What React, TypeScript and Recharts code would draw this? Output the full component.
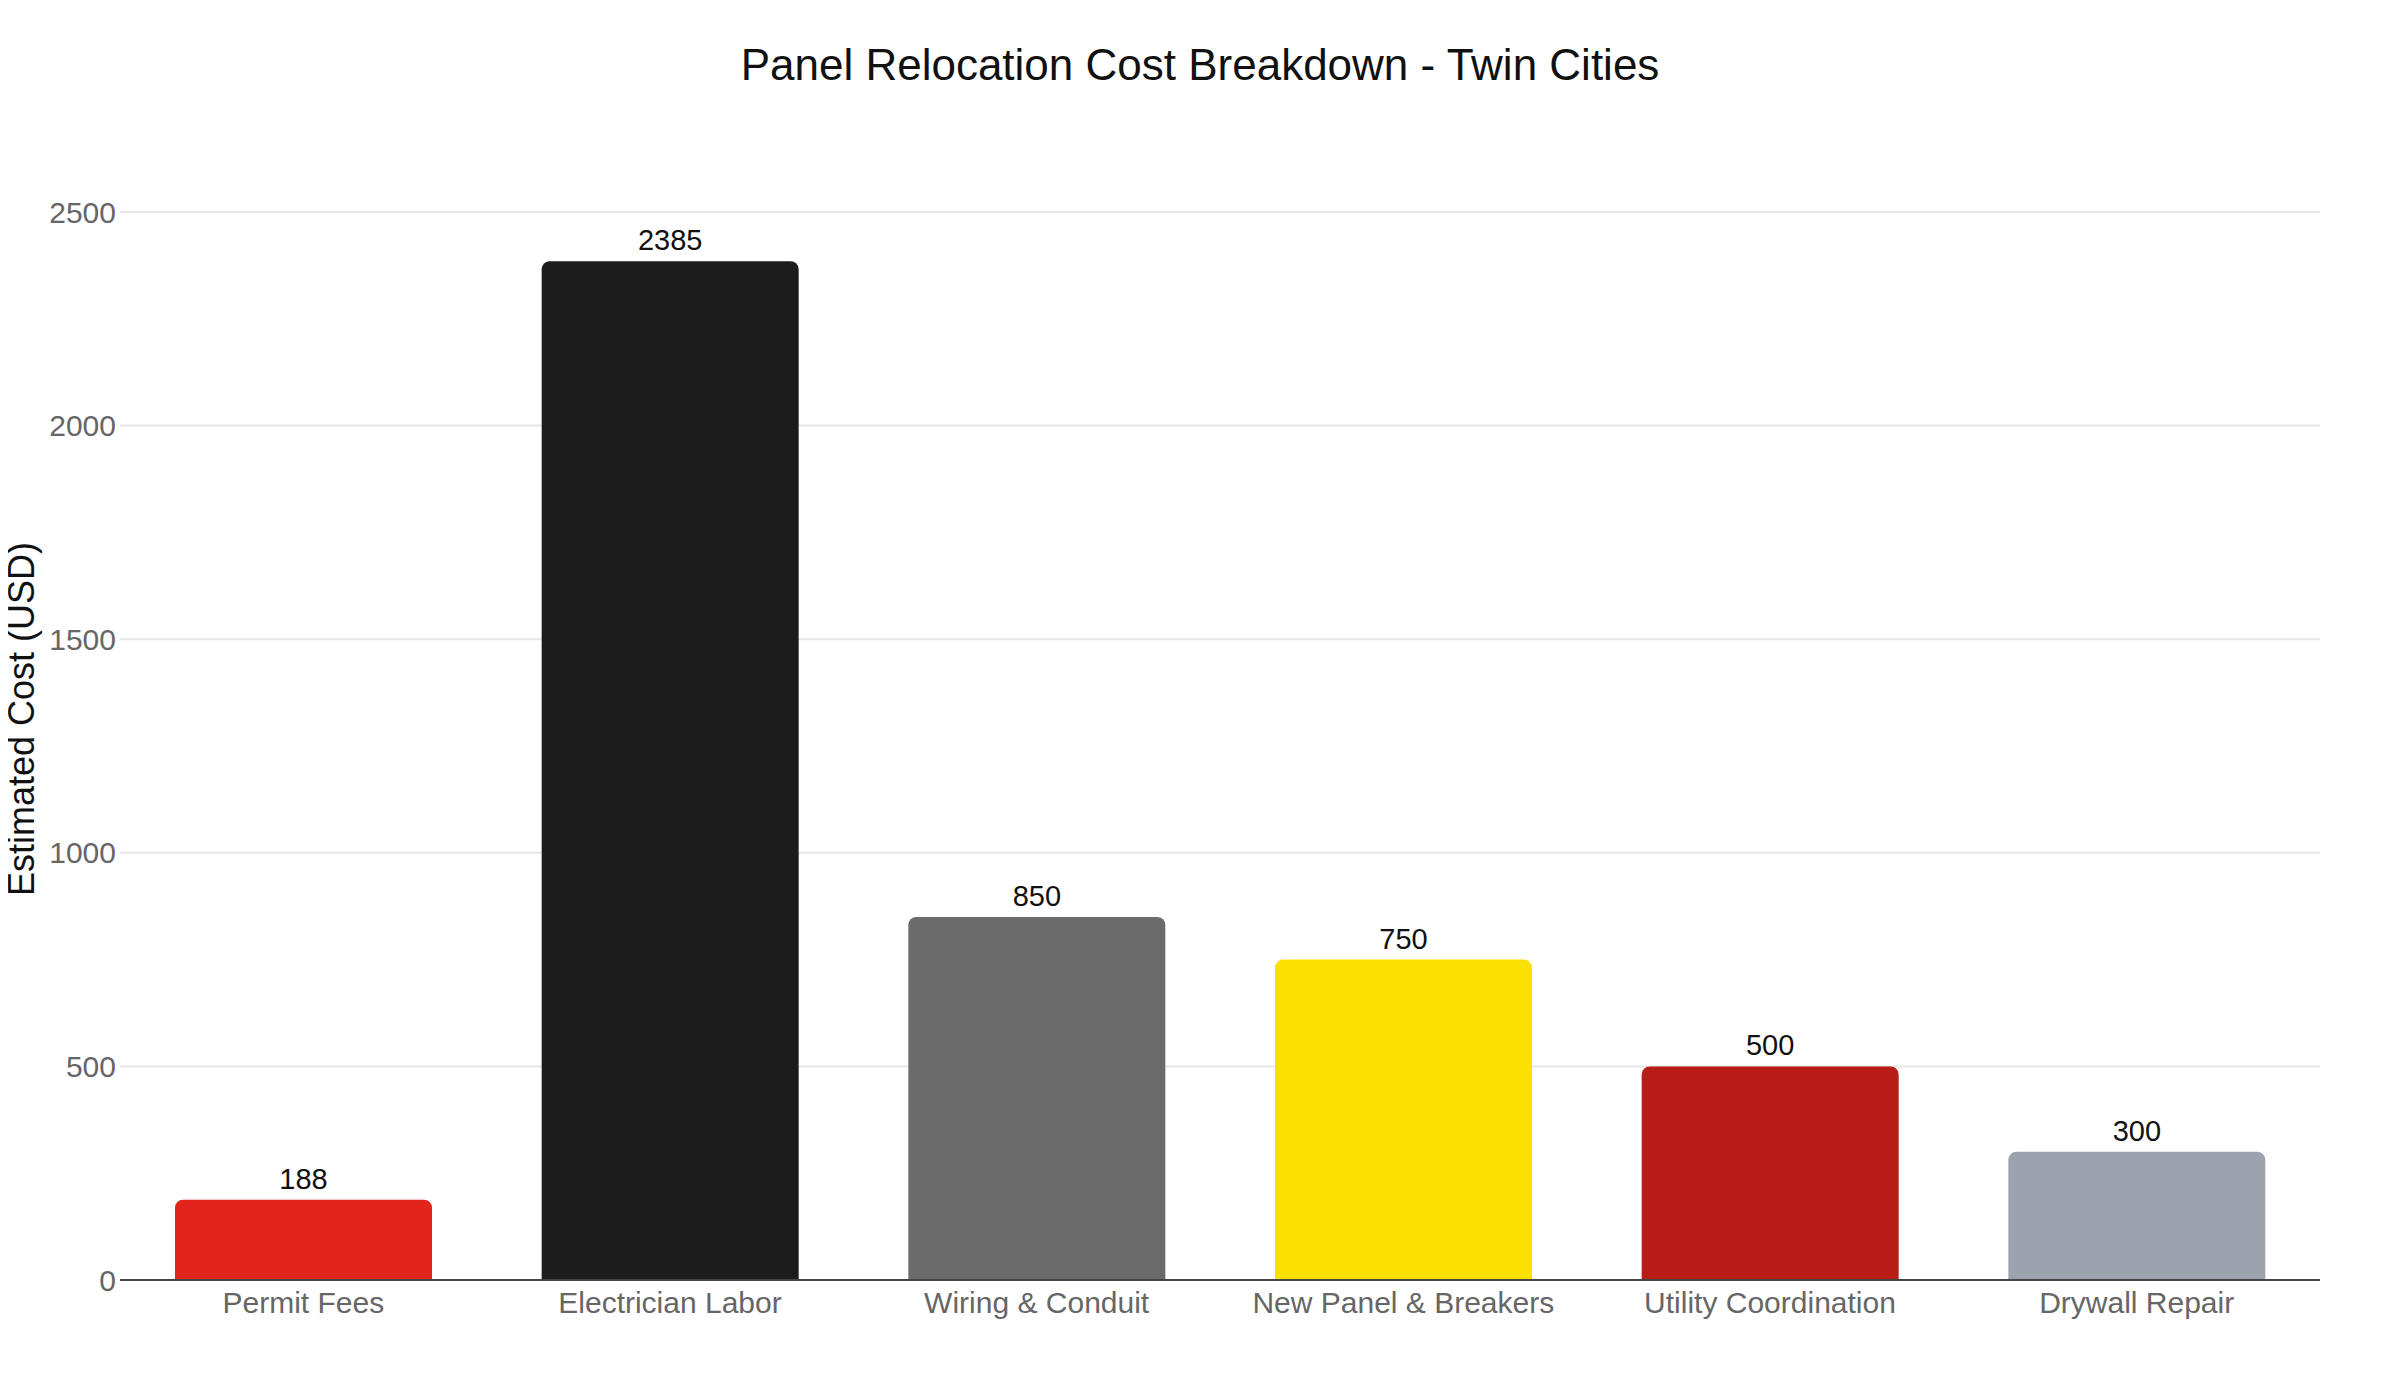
import { BarChart, Bar, XAxis, YAxis, CartesianGrid, Cell, LabelList } from "recharts";

const categories = [
  "Permit Fees",
  "Electrician Labor",
  "Wiring & Conduit",
  "New Panel & Breakers",
  "Utility Coordination",
  "Drywall Repair",
];
const costs = [188, 2385, 850, 750, 500, 300];
const barColors = ["#e0261c", "#1c1c1c", "#6b6b6b", "#fbe100", "#b71c17", "#9ca3af"];
const yTicks = [0, 500, 1000, 1500, 2000, 2500];

const data = categories.map((name, i) => ({ name, cost: costs[i] }));

const FONT = '"Liberation Sans", Arial, Helvetica, sans-serif';

export default function App() {
  return (
    <div style={{ margin: -8, width: 2400, height: 1400, background: "#fff", fontFamily: FONT }}>
      <BarChart
        width={2400}
        height={1400}
        data={data}
        margin={{ top: 212, right: 80, bottom: 60, left: 20 }}
        barCategoryGap="15%"
      >
        <CartesianGrid vertical={false} stroke="#e6e6e6" strokeWidth={2} />
        <XAxis
          dataKey="name"
          height={60}
          tickLine={false}
          tickSize={0}
          tickMargin={12}
          axisLine={{ stroke: "#444", strokeWidth: 2 }}
          tick={{ fill: "#666", fontSize: 30, fontFamily: FONT }}
          interval={0}
        />
        <YAxis
          width={100}
          domain={[0, 2500]}
          ticks={yTicks}
          tickLine={false}
          tickSize={0}
          tickMargin={4}
          axisLine={false}
          tick={{ fill: "#666", fontSize: 30, fontFamily: FONT }}
        />
        <Bar dataKey="cost" radius={[8, 8, 0, 0]} isAnimationActive={false}>
          {data.map((d, i) => (
            <Cell key={d.name} fill={barColors[i]} />
          ))}
          <LabelList
            dataKey="cost"
            position="top"
            offset={11}
            fill="#111"
            fontSize={29}
            fontFamily={FONT}
          />
        </Bar>
        <text
          x={1200}
          y={80}
          textAnchor="middle"
          fontSize={44}
          fill="#111"
          fontFamily={FONT}
        >
          Panel Relocation Cost Breakdown - Twin Cities
        </text>
        <text
          x={21}
          y={719}
          transform="rotate(-90, 21, 719)"
          textAnchor="middle"
          dominantBaseline="central"
          fontSize={36}
          fill="#111"
          fontFamily={FONT}
        >
          Estimated Cost (USD)
        </text>
      </BarChart>
    </div>
  );
}
